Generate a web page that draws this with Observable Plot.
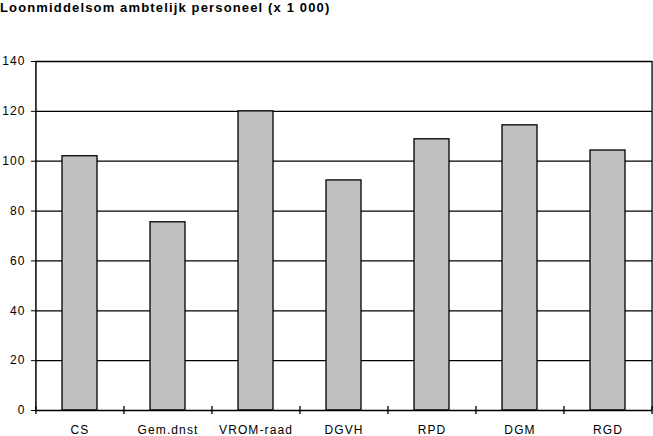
<!DOCTYPE html>
<html><head><meta charset="utf-8">
<script src="https://cdn.jsdelivr.net/npm/d3@7"></script>
<script src="https://cdn.jsdelivr.net/npm/@observablehq/plot@0.6"></script>
<style>
body{margin:0;background:#fff;font-family:"Liberation Sans",Arial,sans-serif;}
#title{height:20px;line-height:16px;font-weight:bold;font-size:13px;letter-spacing:1.15px;color:#000;}
</style></head><body>
<div id="title">Loonmiddelsom ambtelijk personeel (x 1 000)</div>
<div id="chart"></div>
<script>
const categories = ["CS","Gem.dnst","VROM-raad","DGVH","RPD","DGM","RGD"];
const values = [102, 75.5, 120, 92.3, 108.8, 114.4, 104.3];
const yTicks = [0,20,40,60,80,100,120,140];

const data = categories.map((c,i)=>({cat:c, v:values[i]}));
const W = 653, H = 416, mL = 35, mR = 1, mT = 41, mB = 26;
const step = (W - mL - mR) / categories.length;
const last = categories[categories.length-1];
const first = categories[0];

const chart = Plot.plot({
  width: W, height: H,
  marginLeft: mL, marginRight: mR, marginTop: mT, marginBottom: mB,
  style: {fontFamily: '"Liberation Sans", Arial, sans-serif', fontSize: "12px", color: "#000", background: "#fff", letterSpacing: "1.1px"},
  x: {domain: categories, paddingInner: 0.6, paddingOuter: 0.3, label: null},
  y: {domain: [0,140], ticks: yTicks, label: null},
  marks: [
    Plot.ruleY(yTicks.filter(d=>d>0), {stroke:"#000", strokeWidth:1.3}),
    Plot.ruleX([last], {dx: step/2, stroke:"#000", strokeWidth:1.3}),
    Plot.ruleX([first], {dx: -step/2, stroke:"#000", strokeWidth:1.5}),
    Plot.barY(data, {x:"cat", y:"v", fill:"#c0c0c0", stroke:"#000", strokeWidth:1.3}),
    Plot.axisY({ticks: yTicks, tickSize: 4, tickPadding: 6, fontSize: 12, stroke:"#000"}),
    Plot.axisX({tickSize:0, tickPadding: 15, fontSize: 12}),
    Plot.ruleX(categories, {x: d=>d, y1: -1.6, y2: 1.6, dx: -step/2, stroke:"#000", strokeWidth:1.3}),
    Plot.ruleX([last], {x: d=>d, y1: -1.6, y2: 1.6, dx: step/2, stroke:"#000", strokeWidth:1.3}),
    Plot.ruleY([0], {stroke:"#000", strokeWidth:1.5}),
  ]
});
document.getElementById("chart").appendChild(chart);
</script>
</body></html>
